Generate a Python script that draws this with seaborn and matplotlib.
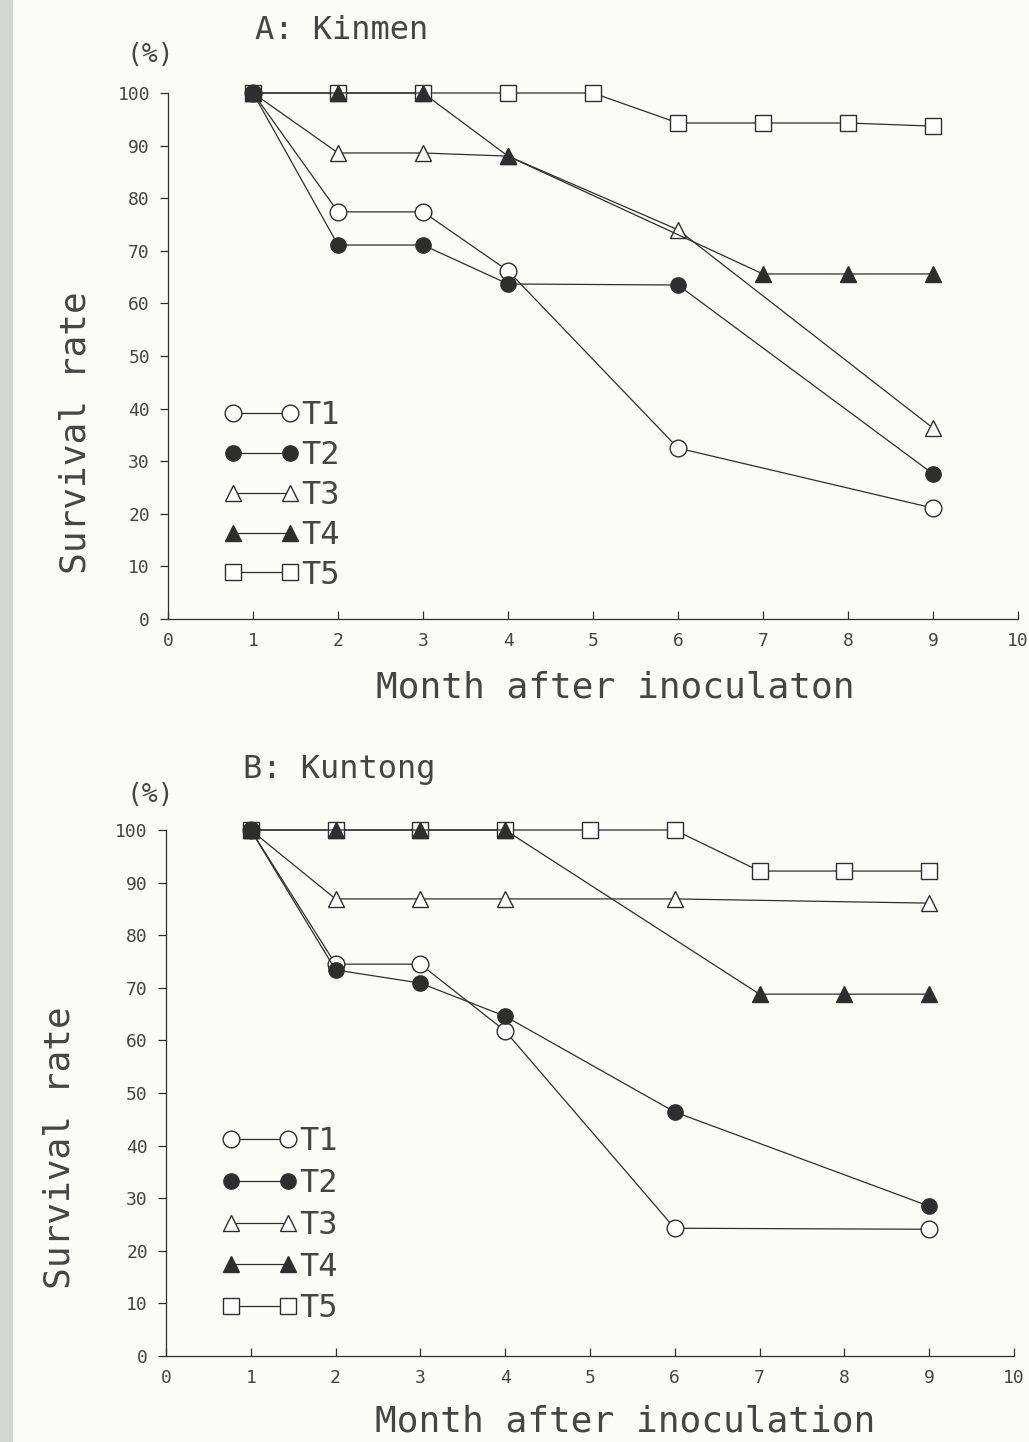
import numpy as np
import pandas as pd
import matplotlib
matplotlib.use("Agg")
import matplotlib.pyplot as plt
from matplotlib.patches import Rectangle
import seaborn as sns

# survival rate (%) by month after inoculation
groups = ["T1", "T2", "T3", "T4", "T5"]

months_a = {
    "T1": [1, 2, 3, 4, 6, 9],
    "T2": [1, 2, 3, 4, 6, 9],
    "T3": [1, 2, 3, 4, 6, 9],
    "T4": [1, 2, 3, 4, 7, 8, 9],
    "T5": [1, 2, 3, 4, 5, 6, 7, 8, 9],
}
rate_a = {
    "T1": [100, 77.4, 77.4, 66.2, 32.5, 21.1],
    "T2": [100, 71.1, 71.1, 63.7, 63.5, 27.6],
    "T3": [100, 88.6, 88.6, 88.0, 74.0, 36.3],
    "T4": [100, 100, 100, 88.0, 65.6, 65.6, 65.6],
    "T5": [100, 100, 100, 100, 100, 94.3, 94.3, 94.3, 93.7],
}

months_b = {
    "T1": [1, 2, 3, 4, 6, 9],
    "T2": [1, 2, 3, 4, 6, 9],
    "T3": [1, 2, 3, 4, 6, 9],
    "T4": [1, 2, 3, 4, 7, 8, 9],
    "T5": [1, 2, 3, 4, 5, 6, 7, 8, 9],
}
rate_b = {
    "T1": [100, 74.5, 74.5, 61.8, 24.3, 24.1],
    "T2": [100, 73.4, 70.9, 64.6, 46.4, 28.5],
    "T3": [100, 86.9, 86.9, 86.9, 86.9, 86.1],
    "T4": [100, 100, 100, 100, 68.8, 68.8, 68.8],
    "T5": [100, 100, 100, 100, 100, 100, 92.2, 92.2, 92.2],
}

markers = {"T1": "o", "T2": "o", "T3": "^", "T4": "^", "T5": "s"}
filled = {"T1": False, "T2": True, "T3": False, "T4": True, "T5": False}
msize = {"T1": 12, "T2": 11, "T3": 11, "T4": 11, "T5": 11}

sns.set_style("ticks")
plt.rcParams["font.family"] = ["DejaVu Sans Mono", "DejaVu Sans"]

ink = "#2e2e2e"
txt = "#454545"
fig = plt.figure(figsize=(10.29, 14.42), dpi=100, facecolor="#fbfbf8")
fig.patches.append(Rectangle((0, 0), 0.012, 1, transform=fig.transFigure,
                             color="#d4d6d3", zorder=0))

ax_a = fig.add_axes([0.1633, 0.5707, 0.826, 0.3648])
ax_b = fig.add_axes([0.1613, 0.0596, 0.824, 0.3648])


def draw_panel(ax, months, rates, xlabel, xl_pos, yl_pos, leg_anchor, spacing):
    ax.set_facecolor("none")
    handles = {}
    # T5 first so the others sit on top of its squares
    for i, g in enumerate(["T5", "T1", "T2", "T3", "T4"]):
        d = pd.DataFrame({"month": months[g], "rate": rates[g]})
        sns.lineplot(data=d, x="month", y="rate", ax=ax, color=ink, lw=0.9,
                     marker=markers[g], markersize=msize[g],
                     markerfacecolor=ink if filled[g] else "white",
                     markeredgecolor=ink, markeredgewidth=1.0,
                     clip_on=False, label=g, zorder=3 + i)
        handles[g] = ax.get_lines()[-1]
    ax.legend([handles[g] for g in groups], groups, numpoints=2,
              loc="lower left", bbox_to_anchor=leg_anchor, frameon=False,
              borderpad=0, borderaxespad=0, handlelength=2.4,
              handletextpad=0.05, labelspacing=spacing, fontsize=23,
              labelcolor=txt)

    ax.set_xlim(0, 10)
    ax.set_ylim(0, 100)
    ax.set_xticks(range(0, 11))
    ax.set_yticks(range(0, 101, 10))
    ax.tick_params(axis="x", direction="in", length=6, width=0.9, pad=9,
                   labelsize=13, colors=ink, labelcolor=txt)
    ax.tick_params(axis="y", direction="out", length=6, width=0.9, pad=7,
                   labelsize=13, colors=ink, labelcolor=txt)
    for s in ["top", "right"]:
        ax.spines[s].set_visible(False)
    for s in ["left", "bottom"]:
        ax.spines[s].set_color(ink)
        ax.spines[s].set_linewidth(0.9)

    ax.set_xlabel(xlabel, fontsize=26, color=txt)
    ax.xaxis.set_label_coords(*xl_pos)
    ax.xaxis.label.set_va("center")
    ax.set_ylabel("Survival rate", fontsize=26, color=txt)
    ax.yaxis.set_label_coords(*yl_pos)
    ax.yaxis.label.set_va("center")


draw_panel(ax_a, months_a, rate_a, "Month after inoculaton",
           (0.526, -0.131), (-0.109, 0.355), (0.065, 0.054), 0.28)
draw_panel(ax_b, months_b, rate_b, "Month after inoculation",
           (0.541, -0.125), (-0.125, 0.397), (0.065, 0.06), 0.34)

fig.text(0.248, 0.979, "A: Kinmen", fontsize=23, color=txt, va="center")
fig.text(0.146, 0.962, "(%)", fontsize=19, color=txt, ha="center", va="center")
fig.text(0.236, 0.4667, "B: Kuntong", fontsize=23, color=txt, va="center")
fig.text(0.146, 0.449, "(%)", fontsize=19, color=txt, ha="center", va="center")

fig.savefig("out.png", dpi=100, facecolor=fig.get_facecolor())
